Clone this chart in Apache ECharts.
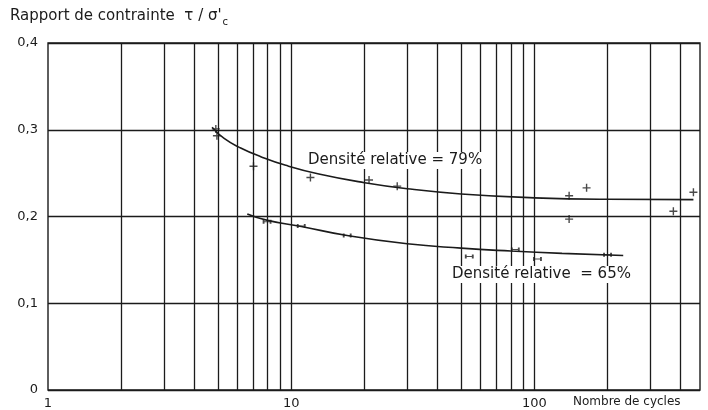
<!DOCTYPE html>
<html>
<head>
<meta charset="utf-8">
<script src="https://cdn.jsdelivr.net/npm/echarts@6/dist/echarts.min.js"></script>
<style>
  html, body { margin: 0; padding: 0; background: #ffffff; }
  #chart { width: 708px; height: 410px; }
</style>
</head>
<body>
<div id="chart"></div>
<script>
// Axis ticks
const xTickValues = [1, 10, 100];
const xTickLabels = ['1', '10', '100'];
const yTickValues = [0, 0.1, 0.2, 0.3, 0.4];
const yTickLabels = ['0', '0,1', '0,2', '0,3', '0,4'];
// Vertical rulings of the log paper (number of cycles)
const gridCycles = [2, 3, 4, 5, 6, 7, 8, 9, 10, 20, 30, 40, 50, 60, 70, 80, 90, 100, 200, 300, 400];

// Relative density 79 %: measured points and fitted curve
const cycles79 = [4.9, 4.95, 7.0, 12.0, 20.9, 27.3, 139, 164, 139, 373, 451];
const ratio79  = [0.301, 0.293, 0.258, 0.245, 0.242, 0.235, 0.224, 0.233, 0.197, 0.206, 0.228];
const fitCycles79 = [4.73, 5.3, 6.2, 7.5, 9.5, 13, 20, 30, 50, 100, 200, 451];
const fitRatio79  = [0.303, 0.290, 0.279, 0.269, 0.259, 0.249, 0.239, 0.232, 0.226, 0.2215, 0.2198, 0.2195];

// Relative density 65 %: measured points and fitted curve
const cycles65 = [7.96, 11.0, 17.0, 54, 83.5, 103, 200];
const ratio65  = [0.194, 0.189, 0.178, 0.154, 0.162, 0.151, 0.156];
const fitCycles65 = [6.6, 8, 11, 17, 30, 50, 80, 130, 232];
const fitRatio65  = [0.203, 0.1955, 0.1885, 0.178, 0.1685, 0.1635, 0.1602, 0.1575, 0.155];

const zip = (a, b) => a.map((v, i) => [v, b[i]]);
const INK = '#1b1b1b';
const FONT = '"DejaVu Sans", sans-serif';

// width of a title run, used to place the subscript right after it
function textWidth(txt, font) {
  const ctx = document.createElement('canvas').getContext('2d');
  ctx.font = font;
  return ctx.measureText(txt).width;
}
const titleText = "Rapport de contrainte  τ / σ'";
const titleFont = '15px ' + FONT;
const titleLeft = 10;

const chart = echarts.init(document.getElementById('chart'), null, { renderer: 'canvas' });

chart.setOption({
  animation: false,
  backgroundColor: '#ffffff',
  grid: {
    left: 48, right: 8, top: 43, bottom: 19,
    show: true, borderColor: INK, borderWidth: 1.4, backgroundColor: 'transparent'
  },
  xAxis: {
    type: 'log', logBase: 10, min: 1, max: 480,
    axisLine: { show: false },
    axisTick: { show: false },
    splitLine: { show: false },
    axisLabel: {
      margin: 7, color: INK, fontFamily: FONT, fontSize: 13,
      showMaxLabel: false,
      formatter: v => {
        const i = xTickValues.findIndex(t => Math.abs(t - v) < 1e-6 * t);
        return i >= 0 ? xTickLabels[i] : '';
      }
    }
  },
  yAxis: {
    type: 'value', min: 0, max: 0.4, interval: 0.1,
    axisLine: { show: false },
    axisTick: { show: false },
    splitLine: { show: true, lineStyle: { color: INK, width: 1.4 } },
    axisLabel: {
      margin: 10, color: INK, fontFamily: FONT, fontSize: 13,
      formatter: v => {
        const i = yTickValues.findIndex(t => Math.abs(t - v) < 1e-9);
        return i >= 0 ? yTickLabels[i] : '';
      }
    }
  },
  series: [
    {
      name: 'rulings', type: 'line', data: [], silent: true,
      markLine: {
        silent: true, symbol: 'none', animation: false,
        label: { show: false },
        lineStyle: { color: INK, width: 1.3, type: 'solid' },
        data: gridCycles.map(v => ({ xAxis: v }))
      }
    },
    {
      name: 'fit79', type: 'line', data: zip(fitCycles79, fitRatio79),
      smooth: 0.5, showSymbol: false,
      lineStyle: { color: INK, width: 1.6 }, z: 5
    },
    {
      name: 'fit65', type: 'line', data: zip(fitCycles65, fitRatio65),
      smooth: 0.5, showSymbol: false,
      lineStyle: { color: INK, width: 1.6 }, z: 5
    },
    {
      name: 'points79', type: 'scatter', data: zip(cycles79, ratio79),
      symbol: 'path://M5,0L5,10M0,5L10,5', symbolSize: 8,
      itemStyle: { color: 'none', borderColor: INK, borderWidth: 1.4 }, z: 6
    },
    {
      name: 'points65', type: 'scatter', data: zip(cycles65, ratio65),
      symbol: 'path://M0,0L0,6M0,3L8,3M8,0L8,6', symbolSize: [7, 4],
      itemStyle: { color: 'none', borderColor: INK, borderWidth: 1.4 }, z: 6
    }
  ],
  graphic: [
    {
      type: 'text', left: titleLeft, top: 9, z: 100,
      style: { text: titleText, fill: INK, font: titleFont }
    },
    {
      type: 'text', left: titleLeft + textWidth(titleText, titleFont) + 1, top: 17, z: 100,
      style: { text: 'c', fill: INK, font: '10px ' + FONT }
    },
    {
      type: 'text', left: 304, top: 152, z: 100,
      style: {
        text: 'Densité relative = 79%', fill: INK, font: '15px ' + FONT,
        backgroundColor: '#ffffff', padding: [1, 4, 1, 4]
      }
    },
    {
      type: 'text', left: 448, top: 266, z: 100,
      style: {
        text: 'Densité relative  = 65%', fill: INK, font: '15px ' + FONT,
        backgroundColor: '#ffffff', padding: [1, 4, 1, 4]
      }
    },
    {
      type: 'text', left: 573, top: 396, z: 100,
      style: { text: 'Nombre de cycles', fill: INK, font: '12px ' + FONT }
    }
  ]
});
</script>
</body>
</html>
